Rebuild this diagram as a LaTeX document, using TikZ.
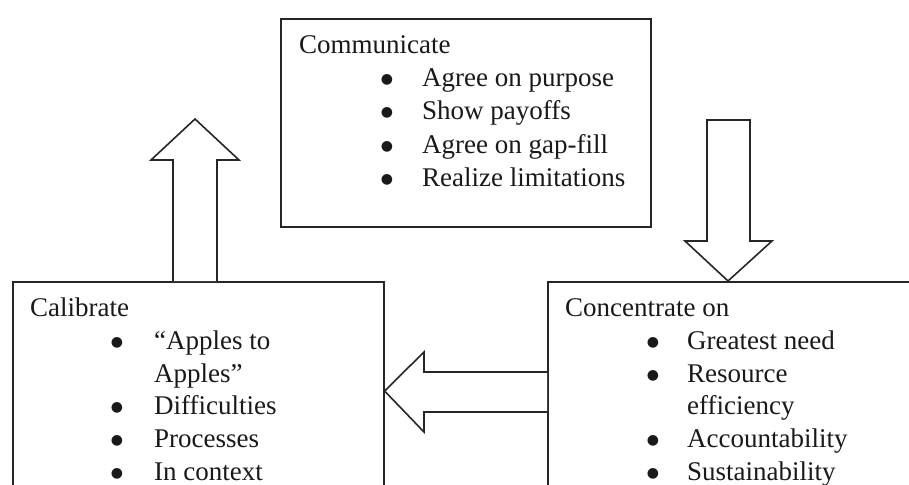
\documentclass[tikz,border=0pt]{standalone}
\usepackage{fontspec}
\setmainfont{Liberation Serif}
\newfontfamily\dotfont{DejaVu Sans}
\usetikzlibrary{calc}
\begin{document}
\begin{tikzpicture}[x=1pt,y=-1pt,
  box/.style={draw=black!85,line width=1.6pt,rectangle,inner sep=0pt,anchor=north west},
  blockarrow/.style={draw=black!85,line width=1.6pt,fill=white,line join=miter},
  txt/.style={inner sep=0pt,anchor=base west,text=black!90,font=\fontsize{27}{33}\selectfont},
  bul/.style={inner sep=0pt,anchor=base,text=black!90,font=\dotfont\fontsize{14}{14}\selectfont,yshift=3pt}]
\useasboundingbox (0,0) rectangle (909,484);
\clip (0,0) rectangle (909,484);

% the three boxes
\node[box,minimum width=370pt,minimum height=208pt] (comm) at (280,18) {};
\node[box,minimum width=371pt,minimum height=260pt] (calib) at (12,281) {};
\node[box,minimum width=400pt,minimum height=260pt] (conc) at (547,281) {};

% free ends of the block arrows
\coordinate (upTip) at (195,119);
\coordinate (downTop) at (728,120);

% up arrow out of Calibrate
\draw[blockarrow] (calib.north west -| 173,0) -- (173,160) -- (151,160) -- (upTip)
  -- (239,160) -- (217,160) -- (calib.north west -| 217,0);

% down arrow into Concentrate on
\draw[blockarrow] ($(downTop)+(-21,0)$) -- ($(downTop)+(22,0)$) -- (750,241) -- (772,241)
  -- (conc.north west -| 728,0) -- (685,241) -- (707,241) -- cycle;

% left arrow from Concentrate on to Calibrate
\draw[blockarrow] (conc.north west |- 0,372) -- (424,372) -- (424,352)
  -- (calib.north east |- 0,391) -- (424,432) -- (424,412) -- (conc.north west |- 0,412);

% Communicate
\node[txt] (commT) at (299,54) {Communicate};
\foreach \y/\t [count=\i] in {87/Agree on purpose,120/Show payoffs,153/Agree on gap-fill,186/Realize limitations}{
  \node[bul] (commB\i) at (387,\y) {●};
  \node[txt] (commI\i) at (422,\y) {\t};
}

% Calibrate
\node[txt] (calibT) at (30,316) {Calibrate};
\foreach \y/\t [count=\i] in {349/“Apples to,414/Difficulties,447/Processes,480/In context}{
  \node[bul] (calibB\i) at (117,\y) {●};
  \node[txt] (calibI\i) at (154,\y) {\t};
}
\node[txt] (calibI1b) at (154,382) {Apples”};

% Concentrate on
\node[txt] (concT) at (565,316) {Concentrate on};
\foreach \y/\t [count=\i] in {349/Greatest need,382/Resource,447/Accountability,480/Sustainability}{
  \node[bul] (concB\i) at (653,\y) {●};
  \node[txt] (concI\i) at (687,\y) {\t};
}
\node[txt] (concI2b) at (687,414) {efficiency};
\end{tikzpicture}
\end{document}
